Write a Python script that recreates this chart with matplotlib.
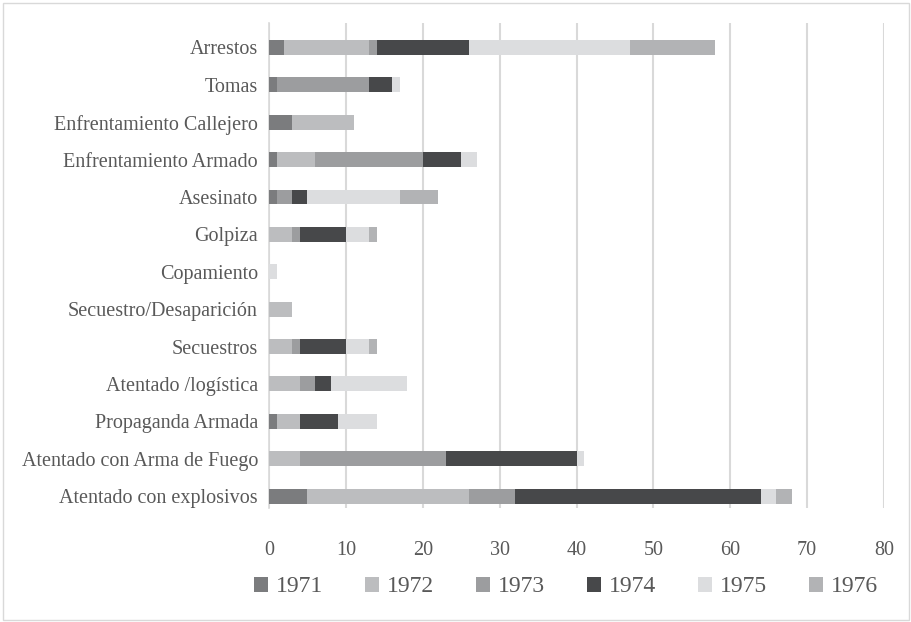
from matplotlib import pyplot as plt
from matplotlib.patches import Rectangle
import numpy as np

categories = ['Arrestos', 'Tomas', 'Enfrentamiento Callejero', 'Enfrentamiento Armado',
              'Asesinato', 'Golpiza', 'Copamiento', 'Secuestro/Desaparición',
              'Secuestros', 'Atentado /logística', 'Propaganda Armada',
              'Atentado con Arma de Fuego', 'Atentado con explosivos']
years = ['1971', '1972', '1973', '1974', '1975', '1976']

v1971 = [2, 1, 3, 1, 1, 0, 0, 0, 0, 0, 1, 0, 5]
v1972 = [11, 0, 8, 5, 0, 3, 0, 3, 3, 4, 3, 4, 21]
v1973 = [1, 12, 0, 14, 2, 1, 0, 0, 1, 2, 0, 19, 6]
v1974 = [12, 3, 0, 5, 2, 6, 0, 0, 6, 2, 5, 17, 32]
v1975 = [21, 1, 0, 2, 12, 3, 1, 0, 3, 10, 5, 1, 2]
v1976 = [11, 0, 0, 0, 5, 1, 0, 0, 1, 0, 0, 0, 2]

colors = ['#7b7c7e', '#bcbdbf', '#9c9d9f', '#47484a', '#dcdddf', '#b2b3b5']
text_color = '#595959'

plt.rcParams['font.family'] = ['Liberation Serif', 'DejaVu Serif']

fig = plt.figure(figsize=(9.11, 6.22), dpi=100)
ax = fig.add_axes([269 / 911, 1 - 508 / 622, (884 - 269) / 911, 485 / 622])

y = np.arange(len(categories))
left = np.zeros(len(categories))
for name, vals, col in zip(years, [v1971, v1972, v1973, v1974, v1975, v1976], colors):
    vals = np.array(vals)
    ax.barh(y, vals, left=left, height=0.4, color=col, label=name, zorder=3)
    left += vals

ax.set_xlim(0, 80)
ax.set_ylim(12.32, -0.655)
ax.set_xticks(range(0, 81, 10))
ax.set_yticks(y)
ax.set_yticklabels(categories)
ax.grid(axis='x', color='#d9d9d9', linewidth=1.5, zorder=0)
for s in ['top', 'right', 'bottom']:
    ax.spines[s].set_visible(False)
ax.spines['left'].set_color('#d9d9d9')
ax.spines['left'].set_linewidth(1.2)
ax.tick_params(axis='both', length=0, colors=text_color, labelsize=14.5)
ax.tick_params(axis='x', pad=24)
ax.tick_params(axis='y', pad=8)

fig.legend(loc='center', bbox_to_anchor=(566 / 911, 1 - 587 / 622), ncol=6,
           frameon=False, fontsize=17, labelcolor=text_color, handlelength=0.6,
           handleheight=0.6, handletextpad=0.35, columnspacing=1.75)

fig.patches.append(Rectangle((3 / 911, 2 / 622), 906 / 911, 617 / 622,
                             transform=fig.transFigure, fill=False,
                             edgecolor='#d9d9d9', linewidth=1))

fig.savefig('out.png', dpi=100)
